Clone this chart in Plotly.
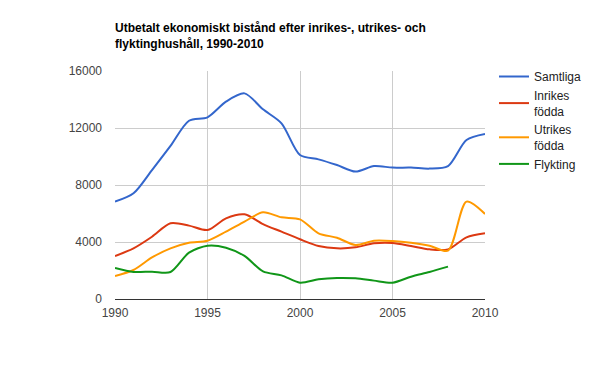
import plotly.graph_objects as go

years = list(range(1990, 2011))
samtliga = [6830, 7420, 9050, 10740, 12510, 12750, 13850, 14430, 13310, 12330,
            10100, 9800, 9400, 8940, 9330, 9220, 9220, 9150, 9330, 11160, 11580]
inrikes = [3020, 3555, 4370, 5310, 5150, 4840, 5660, 5940, 5260, 4725,
           4190, 3720, 3555, 3625, 3905, 3930, 3720, 3485, 3485, 4330, 4610]
utrikes = [1615, 2035, 2920, 3555, 3950, 4090, 4725, 5430, 6080, 5730,
           5590, 4610, 4300, 3790, 4090, 4070, 3950, 3740, 3390, 6830, 5965]
flykting = [2175, 1895, 1920, 1895, 3250, 3740, 3600, 3020, 1940, 1660,
            1145, 1380, 1475, 1450, 1290, 1145, 1565, 1895, 2270, None, None]

names = ["Samtliga", "Inrikes<br>födda", "Utrikes<br>födda", "Flykting"]
colors = ["#3366cc", "#dc3912", "#ff9900", "#109618"]
series = [samtliga, inrikes, utrikes, flykting]

x_ticks = [1990, 1995, 2000, 2005, 2010]
y_ticks = [0, 4000, 8000, 12000, 16000]

title_text = "Utbetalt ekonomiskt bistånd efter inrikes-, utrikes- och<br>flyktinghushåll, 1990-2010"

fig = go.Figure()
for n, c, s in zip(names, colors, series):
    fig.add_trace(go.Scatter(x=years, y=s, name=n, mode="lines",
                             line=dict(color=c, width=2, shape="spline", smoothing=0.8),
                             connectgaps=False))

# page body has an 8px default margin; compensate in the layout
off = 8
L, T = 115 - off, 71 - off
W, H = 370, 228
font = "Arial, 'Liberation Sans', sans-serif"
fig.update_layout(
    width=600, height=371,
    margin=dict(l=L, r=600 - L - W, t=T, b=371 - T - H, autoexpand=False),
    paper_bgcolor="white", plot_bgcolor="white",
    font=dict(family=font, size=12, color="#222"),
    title=dict(text="<b>" + title_text + "</b>", x=L/600, xanchor="left",
               y=1 - 24/371, yanchor="top", automargin=False,
               font=dict(family=font, size=12, color="black")),
    xaxis=dict(range=[1990, 2010], tickvals=x_ticks, ticktext=[str(v) for v in x_ticks],
               showgrid=True, gridcolor="#cccccc", gridwidth=1, zeroline=False,
               showline=False, ticks="", automargin=False, ticklabelstandoff=5,
               tickfont=dict(color="#444", size=12)),
    yaxis=dict(range=[0, 16000], tickvals=y_ticks, ticktext=[str(v) for v in y_ticks],
               showgrid=True, gridcolor="#cccccc", gridwidth=1,
               zeroline=True, zerolinecolor="#333333", zerolinewidth=1,
               showline=False, ticks="", ticklabelstandoff=12, automargin=False,
               tickfont=dict(color="#444", size=12)),
    legend=dict(x=(494-115)/370, xanchor="left", y=1 + 9/228, yanchor="top",
                font=dict(family=font, size=12, color="#222"),
                tracegroupgap=0, itemwidth=30, bgcolor="rgba(0,0,0,0)"),
    showlegend=True,
)

fig.write_html("out.html")
